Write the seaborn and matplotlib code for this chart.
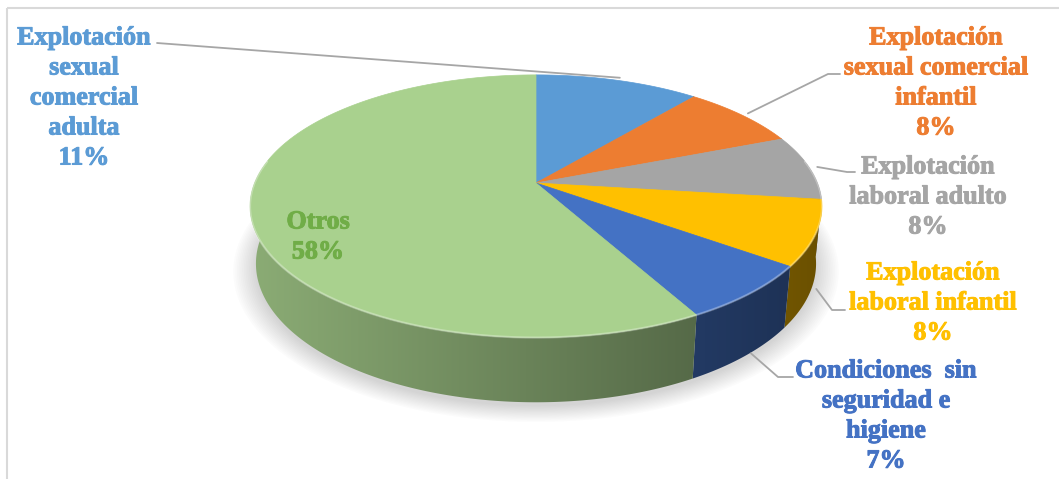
import numpy as np
import matplotlib
matplotlib.use("Agg")
import matplotlib.pyplot as plt
import matplotlib.colors as mcolors
import matplotlib.patheffects as pe
from matplotlib.patches import Rectangle, Polygon
import seaborn as sns

# ---- data ----
categories = [
    "Explotación sexual comercial adulta",
    "Explotación sexual comercial infantil",
    "Explotación laboral adulto",
    "Explotación laboral infantil",
    "Condiciones  sin seguridad e higiene",
    "Otros",
]
values = [11, 8, 8, 8, 7, 58]
label_lines = [
    "Explotación\nsexual\ncomercial\nadulta",
    "Explotación\nsexual comercial\ninfantil",
    "Explotación\nlaboral adulto",
    "Explotación\nlaboral infantil",
    "Condiciones  sin\nseguridad e\nhigiene",
    "Otros",
]

# ---- styling ----
top_colors = sns.color_palette(["#5B9BD5", "#ED7D31", "#A5A5A5", "#FFC000", "#4472C4", "#A9D18E"])
text_colors = ["#5B9BD5", "#ED7D31", "#A5A5A5", "#FFC000", "#4472C4", "#70AD47"]

# label block centres and leader-line end points (figure pixels)
label_pos = [(84, 98), (936, 83), (928, 197), (933, 303), (886, 416), (318, 237)]
leader_tail = [
    [(157, 43)],
    [(828, 74), (840, 74)],
    [(847, 172), (855, 172)],
    [(832, 310), (845, 310)],
    [(778, 377), (793, 377)],
    None,
]

sns.set_theme(style="white")
plt.rcParams["font.family"] = ["Liberation Serif", "DejaVu Serif"]

W, Hpx = 1059, 479
fig = plt.figure(figsize=(W / 100, Hpx / 100), dpi=100)
ax = fig.add_axes([0, 0, 1, 1])
ax.axis("off")

# ---- 3D pie projection ----
CX, CY, R = 536.0, 183.0, 281.5
SIN_T, COS_T = 0.452, 0.892
DIST = 5.04
THICK = 0.23


def proj(X, Y, Z):
    X = np.asarray(X, dtype=float)
    Y = np.asarray(Y, dtype=float)
    Z = np.asarray(Z, dtype=float)
    v = Y * SIN_T + Z * COS_T
    w = -Y * COS_T + Z * SIN_T
    s = DIST / (DIST - w)
    return CX + X * s * R, CY - v * s * R


fractions = np.array(values, dtype=float) / np.sum(values)
bounds = np.concatenate([[0.0], np.cumsum(fractions)]) * 2 * np.pi

# soft drop shadow under the pie
phi_all = np.linspace(0, 2 * np.pi, 300)
for k in range(14):
    r = 1.0 + 0.006 * k
    sx, sy = proj(r * np.sin(phi_all), r * np.cos(phi_all), -THICK)
    ax.fill(sx, sy + 4, color="#7f7f7f", alpha=0.022, lw=0, zorder=1)

# side wall: one polygon per slice, filled with a left-to-right shading ramp
front_lo, front_hi = np.deg2rad(78), np.deg2rad(282)
gx0, gx1 = CX - 1.05 * R, CX + 1.05 * R
gy0, gy1 = CY - 20, CY + 1.0 * R
xs_grad = np.linspace(gx0, gx1, 600)
shade = 0.62 - 0.2 * (xs_grad - CX) / R
for i in range(len(values)):
    a0 = max(bounds[i], front_lo)
    a1 = min(bounds[i + 1], front_hi)
    if a1 <= a0:
        continue
    phis = np.linspace(a0, a1, 300)
    tx, ty = proj(np.sin(phis), np.cos(phis), 0)
    bx, by = proj(np.sin(phis), np.cos(phis), -THICK)
    poly = np.column_stack([np.concatenate([tx, bx[::-1]]), np.concatenate([ty, by[::-1]])])
    patch = Polygon(poly, closed=True, fc="none", ec="none")
    ax.add_patch(patch)
    base = np.array(mcolors.to_rgb(top_colors[i]))
    img = np.clip(shade[None, :, None] * base[None, None, :], 0, 1)
    im = ax.imshow(img, extent=[gx0, gx1, gy1, gy0], aspect="auto",
                   interpolation="bilinear", zorder=2)
    im.set_clip_path(patch)

# top faces
for i in range(len(values)):
    phis = np.linspace(bounds[i], bounds[i + 1], 200)
    xs, ys = proj(np.sin(phis), np.cos(phis), 0)
    xs = np.concatenate([[CX], xs])
    ys = np.concatenate([[CY], ys])
    ax.fill(xs, ys, color=top_colors[i], ec=top_colors[i], lw=0.5, zorder=3)

# bevel highlight along the front rim
phis = np.linspace(np.deg2rad(80), np.deg2rad(280), 300)
rx, ry = proj(np.sin(phis), np.cos(phis), 0)
ax.plot(rx, ry, color="white", alpha=0.3, lw=1.6, zorder=4, solid_capstyle="round")

# ---- labels and leader lines ----
for i, (txt, v) in enumerate(zip(label_lines, values)):
    x, y = label_pos[i]
    ax.text(x, y, f"{txt}\n{v}%", ha="center", va="center", fontsize=18.8,
            fontweight="bold", color=text_colors[i], linespacing=1.39, zorder=6,
            path_effects=[pe.withStroke(linewidth=0.7, foreground=text_colors[i])])
    tail = leader_tail[i]
    if tail is None:
        continue
    pm = 0.5 * (bounds[i] + bounds[i + 1])
    if np.cos(pm) < 0:
        ax_, ay_ = proj(1.02 * np.sin(pm), 1.02 * np.cos(pm), -0.92 * THICK)
    else:
        ax_, ay_ = proj(1.03 * np.sin(pm), 1.03 * np.cos(pm), 0)
    pts = [(float(ax_), float(ay_))] + tail
    ax.plot([p[0] for p in pts], [p[1] for p in pts], color="#A6A6A6", lw=1.3, zorder=5)

# chart frame
ax.add_patch(Rectangle((7, 8), W + 20, Hpx + 20, fill=False, ec="#D9D9D9", lw=1.5, zorder=0))

ax.set_xlim(0, W)
ax.set_ylim(Hpx, 0)
fig.savefig("out.png", dpi=100)
